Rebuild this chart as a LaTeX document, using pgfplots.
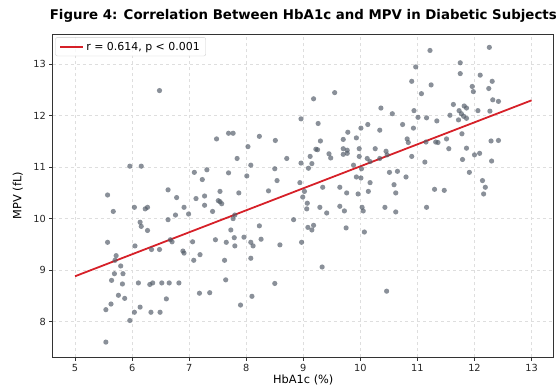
\documentclass[border=0pt]{standalone}
\usepackage{fontspec}
\setmainfont{DejaVu Sans}
\usepackage{pgfplots}
\usepackage{pgfplotstable}
\pgfplotsset{compat=1.18}
\definecolor{regred}{RGB}{214,32,40}
\definecolor{ptgray}{RGB}{82,92,104}

\pgfplotstableread{
x y
5.54 7.60
5.54 8.23
5.63 8.34
5.76 8.51
5.87 8.45
5.64 8.80
5.83 8.73
5.69 8.93
5.84 8.93
5.80 9.08
5.70 9.19
5.72 9.28
5.57 9.54
5.67 10.14
5.57 10.46
5.96 8.02
6.04 8.18
6.14 8.28
6.33 8.18
6.49 8.18
6.60 8.44
6.11 8.75
6.31 8.72
6.36 8.75
6.52 8.75
6.65 8.75
6.82 8.75
6.05 9.47
6.34 9.40
6.48 9.40
6.67 9.59
6.70 9.55
6.89 9.37
6.91 9.33
6.14 9.93
6.16 9.85
6.27 9.77
6.63 9.98
6.76 10.07
6.99 10.09
6.04 10.22
6.23 10.19
6.27 10.22
6.91 10.22
6.63 10.56
6.78 10.41
5.96 11.02
6.16 11.02
6.48 12.49
7.06 9.55
7.19 9.30
7.08 9.19
7.18 8.55
7.36 8.56
7.90 8.32
8.10 8.49
7.64 8.81
8.50 8.74
7.62 9.19
8.08 9.23
7.46 9.59
7.65 9.54
7.79 9.63
7.80 9.47
7.96 9.64
8.08 9.54
8.12 9.47
8.26 9.60
8.59 9.49
8.97 9.54
7.73 9.78
8.23 9.86
8.83 9.98
7.77 10.00
7.80 10.07
7.41 10.14
7.27 10.26
7.54 10.33
7.12 10.39
7.27 10.44
7.51 10.35
7.57 10.29
7.54 10.53
7.87 10.50
8.39 10.54
7.23 10.76
8.01 10.83
8.54 10.74
7.09 10.90
7.31 10.95
7.69 10.89
8.50 10.97
7.84 11.17
8.08 11.04
8.71 11.17
8.96 11.08
8.03 11.40
7.48 11.55
8.23 11.60
8.51 11.52
7.69 11.66
7.77 11.66
8.96 11.94
9.08 9.83
8.94 10.70
9.02 10.53
8.99 10.42
9.07 10.30
9.06 10.19
9.12 11.21
9.15 11.07
9.09 10.98
9.25 11.34
9.18 12.33
9.55 12.45
9.26 11.85
9.30 11.51
9.22 11.35
9.45 11.26
9.48 11.18
9.70 11.25
9.77 11.27
9.70 11.36
9.77 11.33
9.98 11.36
9.70 11.54
9.93 11.57
9.78 11.68
9.98 11.21
9.88 11.04
10.02 10.97
10.12 11.17
10.17 11.11
10.34 11.17
10.47 11.24
10.26 11.36
10.45 11.31
10.34 11.72
10.13 11.83
10.01 11.76
10.36 12.15
10.56 12.04
10.74 11.83
10.93 11.76
10.82 11.55
10.84 11.48
10.90 11.21
10.94 12.10
11.01 11.97
11.16 11.96
11.07 12.43
10.90 12.67
10.97 12.95
11.24 12.60
11.22 13.27
11.34 11.90
11.15 11.49
11.32 11.49
11.36 11.48
11.51 11.55
11.55 11.36
11.13 11.10
11.57 12.01
11.63 12.22
11.72 11.92
11.73 12.10
11.82 12.19
11.86 12.15
11.77 12.04
11.81 11.99
11.86 11.95
11.75 13.03
11.75 12.82
11.96 12.57
11.98 12.47
12.10 12.79
12.25 12.53
12.31 12.67
12.26 13.33
12.32 12.31
12.42 12.28
12.06 12.10
12.27 12.09
11.78 11.65
11.86 11.37
11.79 11.15
12.00 11.24
12.09 11.27
12.30 11.12
12.29 11.51
12.42 11.52
11.91 10.90
12.14 10.74
12.19 10.61
12.16 10.48
11.30 10.57
11.47 10.55
11.16 10.22
10.46 8.59
9.33 9.06
9.34 10.61
9.64 10.61
9.76 10.50
9.96 10.48
10.14 10.53
9.93 10.81
10.01 10.79
10.17 10.70
10.51 10.90
10.65 10.92
10.80 10.81
10.59 10.66
10.62 10.50
9.29 10.22
9.64 10.24
10.03 10.22
10.43 10.22
9.41 10.11
9.72 10.15
10.05 10.15
10.62 10.13
9.18 9.87
9.15 9.78
9.75 9.82
10.07 9.74
}\scatterdata

\begin{document}
\begin{tikzpicture}[x=1bp,y=1bp]
\begin{axis}[
  at={(0,0)}, anchor=south west,
  scale only axis, width=501bp, height=323bp,
  xmin=4.61, xmax=13.39, ymin=7.31, ymax=13.59,
  xtick={5,6,...,13}, ytick={8,9,...,13},
  xtick pos=bottom, ytick pos=left,
  tick align=outside, major tick length=3.5bp,
  tick style={black!80, line width=0.8pt},
  ticklabel style={font=\fontsize{9.8}{11}\selectfont, text=black!85},
  /pgf/number format/assume math mode=true,
  grid=major, major grid style={dashed, black!13, line width=0.6pt},
  axis line style={black!80, line width=0.8pt},
  xlabel={HbA1c (\%)}, ylabel={MPV (fL)},
  xlabel style={at={(axis description cs:0.5,-0.0705)}, anchor=center, font=\fontsize{11.4}{13}\selectfont},
  ylabel style={at={(axis description cs:-0.0699,0.5)}, anchor=center, font=\fontsize{11.4}{13}\selectfont},
  title={Figure 4: Correlation Between HbA1c and MPV in Diabetic Subjects},
  title style={at={(axis description cs:0.5,1.037)}, anchor=center, font=\fontsize{13.4}{16}\selectfont\bfseries},
  legend style={at={(0.005,0.99)}, anchor=north west, draw=black!20, rounded corners=2bp,
    fill=white, fill opacity=0.8, text opacity=1, font=\fontsize{11}{13}\selectfont,
    inner xsep=4bp, inner ysep=2.5bp},
  legend cell align=left,
  legend image code/.code={\draw[#1, line width=1.8pt] (0bp,0bp) -- (23bp,0bp);},
]
\addplot[only marks, mark=*, mark size=2.6bp, mark options={fill=ptgray, draw opacity=0, fill opacity=0.68}, forget plot] table[x=x, y=y] {\scatterdata};
\addplot[regred, line width=1.8pt] coordinates {(5,8.88) (13,12.30)};
\addlegendentry{r = 0.614, p < 0.001}
\end{axis}
\pgfresetboundingbox
\path[use as bounding box] (-52.8,-30) rectangle (506.2,357);
\end{tikzpicture}
\end{document}
